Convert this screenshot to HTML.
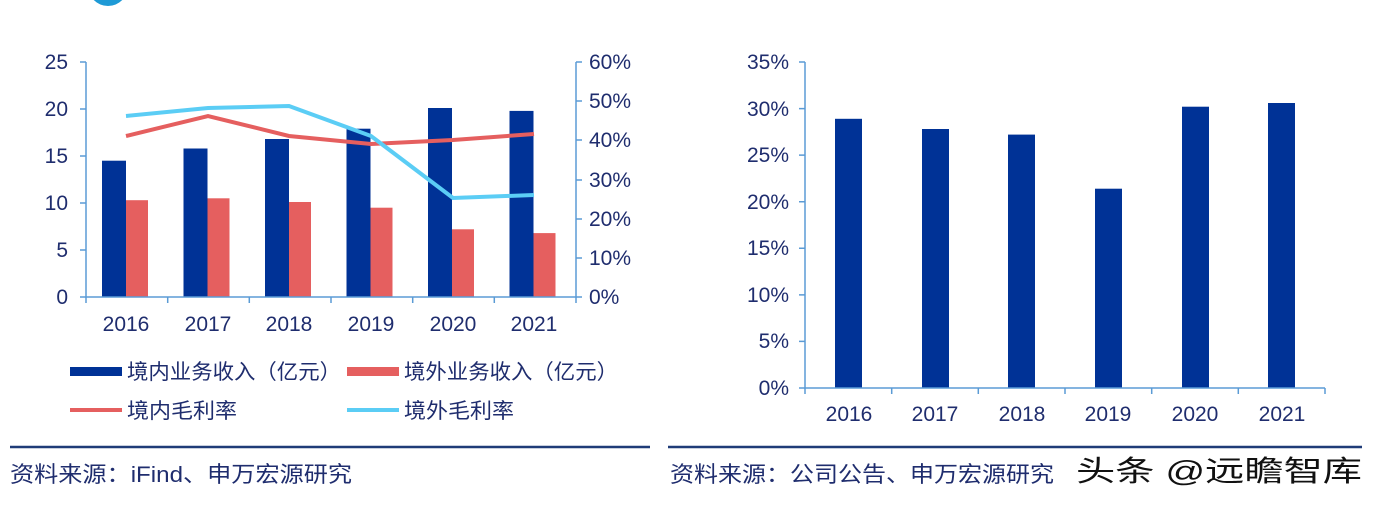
<!DOCTYPE html>
<html><head><meta charset="utf-8"><style>
body{margin:0;background:#fff;}
svg text{font-family:"Liberation Sans","Noto Sans CJK SC",sans-serif;fill:#1f2d6e;}
</style></head><body>
<svg width="1377" height="504" xmlns="http://www.w3.org/2000/svg">
<circle cx="108" cy="-14" r="20" fill="#1e9ad6"/>
<g font-size="21">
<text x="68" y="69" text-anchor="end">25</text>
<text x="68" y="116" text-anchor="end">20</text>
<text x="68" y="163" text-anchor="end">15</text>
<text x="68" y="210" text-anchor="end">10</text>
<text x="68" y="257" text-anchor="end">5</text>
<text x="68" y="304" text-anchor="end">0</text>
<text x="589" y="69">60%</text>
<text x="589" y="108">50%</text>
<text x="589" y="147">40%</text>
<text x="589" y="187">30%</text>
<text x="589" y="226">20%</text>
<text x="589" y="265">10%</text>
<text x="589" y="304">0%</text>
</g>
<g fill="#003296">
<rect x="102" y="160.7" width="24" height="136.3"/>
<rect x="183.5" y="148.5" width="24" height="148.5"/>
<rect x="265" y="139" width="24" height="158"/>
<rect x="346.5" y="128.7" width="24" height="168.3"/>
<rect x="428" y="108" width="24" height="189"/>
<rect x="509.5" y="110.9" width="24" height="186.1"/>
</g>
<g fill="#e55f5f">
<rect x="126" y="200.2" width="22" height="96.8"/>
<rect x="207.5" y="198.3" width="22" height="98.7"/>
<rect x="289" y="202" width="22" height="95"/>
<rect x="370.5" y="207.7" width="22" height="89.3"/>
<rect x="452" y="229.3" width="22" height="67.7"/>
<rect x="533.5" y="233.1" width="22" height="63.9"/>
</g>
<g stroke="#5b9bd5" stroke-width="1.5" fill="none">
<path d="M86 62V297H576V62"/>
<path d="M80 62H86M80 109H86M80 156H86M80 203H86M80 250H86M80 297H86"/>
<path d="M576 62H582M576 101H582M576 140H582M576 180H582M576 219H582M576 258H582M576 297H582"/>
<path d="M86 297V303M167.7 297V303M249.3 297V303M331 297V303M412.7 297V303M494.3 297V303M576 297V303"/>
</g>
<polyline fill="none" stroke="#e55f5f" stroke-width="4" points="126,136 208,116 289,136 371,144 453,140 534,134"/>
<polyline fill="none" stroke="#5bcdf5" stroke-width="4" points="126,116 208,108 289,106 371,136 453,198 534,195"/>
<g font-size="21">
<text x="126" y="331" text-anchor="middle">2016</text>
<text x="208" y="331" text-anchor="middle">2017</text>
<text x="289" y="331" text-anchor="middle">2018</text>
<text x="371" y="331" text-anchor="middle">2019</text>
<text x="453" y="331" text-anchor="middle">2020</text>
<text x="534" y="331" text-anchor="middle">2021</text>
</g>
<rect x="70" y="367" width="52" height="9" fill="#003296"/>
<rect x="347" y="367" width="52" height="9" fill="#e55f5f"/>
<line x1="70" y1="410" x2="122" y2="410" stroke="#e55f5f" stroke-width="4"/>
<line x1="347" y1="410" x2="399" y2="410" stroke="#5bcdf5" stroke-width="4"/>
<g font-size="21">
<text x="127" y="379" textLength="214" lengthAdjust="spacingAndGlyphs">境内业务收入（亿元）</text>
<text x="404" y="379" textLength="214" lengthAdjust="spacingAndGlyphs">境外业务收入（亿元）</text>
<text x="127" y="418" textLength="110" lengthAdjust="spacingAndGlyphs">境内毛利率</text>
<text x="404" y="418" textLength="110" lengthAdjust="spacingAndGlyphs">境外毛利率</text>
</g>
<line x1="10" y1="447" x2="650" y2="447" stroke="#1f3c78" stroke-width="2.5"/>
<text x="10" y="482" font-size="22" textLength="342" lengthAdjust="spacingAndGlyphs">资料来源：iFind、申万宏源研究</text>
<g font-size="21">
<text x="789" y="69" text-anchor="end">35%</text>
<text x="789" y="116" text-anchor="end">30%</text>
<text x="789" y="162" text-anchor="end">25%</text>
<text x="789" y="209" text-anchor="end">20%</text>
<text x="789" y="255" text-anchor="end">15%</text>
<text x="789" y="302" text-anchor="end">10%</text>
<text x="789" y="348" text-anchor="end">5%</text>
<text x="789" y="395" text-anchor="end">0%</text>
</g>
<g fill="#003296">
<rect x="835" y="118.8" width="27" height="269.2"/>
<rect x="922" y="129" width="27" height="259"/>
<rect x="1008" y="134.6" width="27" height="253.4"/>
<rect x="1095" y="188.7" width="27" height="199.3"/>
<rect x="1182" y="106.7" width="27" height="281.3"/>
<rect x="1268" y="103" width="27" height="285"/>
</g>
<g stroke="#5b9bd5" stroke-width="1.5" fill="none">
<path d="M805 62V388H1325"/>
<path d="M799 62H805M799 108.6H805M799 155.1H805M799 201.7H805M799 248.3H805M799 294.9H805M799 341.4H805M799 388H805"/>
<path d="M805 388V394M891.7 388V394M978.3 388V394M1065 388V394M1151.7 388V394M1238.3 388V394M1325 388V394"/>
</g>
<g font-size="21">
<text x="849" y="421" text-anchor="middle">2016</text>
<text x="935" y="421" text-anchor="middle">2017</text>
<text x="1022" y="421" text-anchor="middle">2018</text>
<text x="1108" y="421" text-anchor="middle">2019</text>
<text x="1195" y="421" text-anchor="middle">2020</text>
<text x="1282" y="421" text-anchor="middle">2021</text>
</g>
<line x1="668" y1="447" x2="1362" y2="447" stroke="#1f3c78" stroke-width="2.5"/>
<text x="670" y="482" font-size="22" textLength="384" lengthAdjust="spacingAndGlyphs">资料来源：公司公告、申万宏源研究</text>
<text x="1076" y="481" font-size="29" textLength="286" lengthAdjust="spacingAndGlyphs" style="fill:#111">头条 @远瞻智库</text>
</svg>
</body></html>
